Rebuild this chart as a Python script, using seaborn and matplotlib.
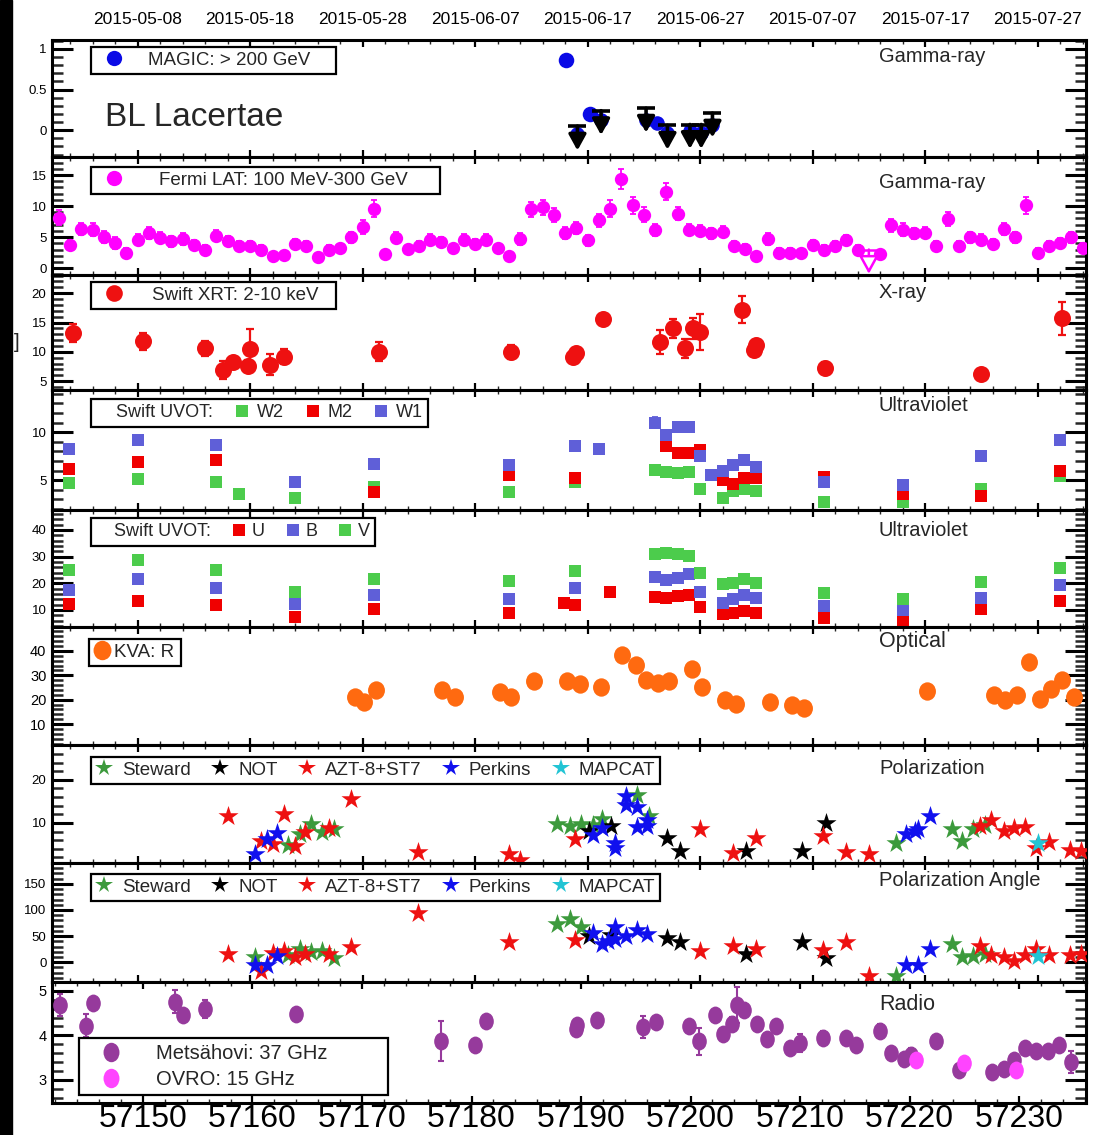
import numpy as np
import pandas as pd
import matplotlib
matplotlib.use("Agg")
import matplotlib.pyplot as plt
import seaborn as sns
from matplotlib.lines import Line2D
from matplotlib.patches import Rectangle
from matplotlib.path import Path
from matplotlib.transforms import Affine2D
from matplotlib.ticker import MultipleLocator, FixedLocator
from matplotlib import font_manager

# ---------------------------------------------------------------- data
# MAGIC > 200 GeV
magic_det_mjd = [57188.1, 57190.2]
magic_det_flux = [0.86, 0.2]
magic_est_mjd = [57189.1, 57191.2, 57195.2, 57196.2, 57197.1, 57199.1, 57200.1, 57201.1]
magic_est_flux = [-0.05, 0.13, 0.13, 0.09, -0.03, -0.01, -0.03, 0.07]
magic_ul_mjd = [57189.1, 57191.2, 57195.2, 57197.1, 57199.1, 57200.1, 57201.1]
magic_ul_flux = [0.05, 0.24, 0.27, 0.06, 0.07, 0.07, 0.21]

# Fermi-LAT 100 MeV - 300 GeV, daily bins
fermi_mjd = [57143, 57144, 57145, 57146, 57147, 57148, 57149, 57150, 57151, 57152,
             57153, 57154, 57155, 57156, 57157, 57158, 57159, 57160, 57161, 57162,
             57163, 57164, 57165, 57166, 57167, 57168, 57169, 57170, 57171, 57172,
             57173, 57174, 57175, 57176, 57177, 57178, 57179, 57180, 57181, 57182,
             57183, 57184, 57185, 57186, 57187, 57188, 57189, 57190, 57191, 57192,
             57193, 57194, 57195, 57196, 57197, 57198, 57199, 57200, 57201, 57202,
             57203, 57204, 57205, 57206, 57207, 57208, 57209, 57210, 57211, 57212,
             57213, 57214, 57216, 57217, 57218, 57219, 57220, 57221, 57222, 57223,
             57224, 57225, 57226, 57227, 57228, 57229, 57230, 57231, 57232, 57233, 57234]
fermi_flux = [8.1, 3.8, 6.3, 6.2, 5.0, 4.05, 2.5, 4.6, 5.7, 4.9,
              4.3, 4.7, 3.8, 3.0, 5.2, 4.3, 3.5, 3.5, 3.0, 2.0,
              2.2, 3.9, 3.5, 1.8, 3.0, 3.2, 5.0, 6.6, 9.6, 2.3,
              4.9, 3.1, 3.5, 4.6, 4.2, 3.2, 4.6, 3.9, 4.6, 3.2,
              1.9, 4.7, 9.5, 9.8, 8.6, 5.7, 6.5, 4.5, 7.7, 9.6,
              14.4, 10.1, 8.6, 6.1, 12.3, 8.8, 6.2, 6.05, 5.6, 5.9,
              3.5, 3.1, 1.9, 4.7, 2.5, 2.5, 2.4, 3.8, 3.0, 3.6,
              4.6, 3.0, 2.3, 6.9, 6.2, 5.6, 5.7, 3.5, 7.9, 3.5,
              5.0, 4.6, 3.9, 6.3, 5.0, 10.1, 2.5, 3.6, 4.05, 5.0, 3.2]
fermi_err = [1.2, 0.8, 1.0, 1.1, 1.0, 0.9, 0.7, 0.9, 1.0, 0.9,
             0.9, 0.9, 0.8, 0.7, 0.9, 0.8, 0.8, 0.8, 0.7, 0.6,
             0.6, 0.8, 0.8, 0.6, 0.7, 0.7, 0.9, 1.1, 1.4, 0.7,
             0.9, 0.7, 0.8, 0.9, 0.8, 0.7, 0.9, 0.8, 0.9, 0.7,
             0.6, 0.9, 1.2, 1.2, 1.1, 1.0, 1.0, 0.9, 1.1, 1.3,
             1.6, 1.3, 1.2, 1.0, 1.4, 1.1, 0.9, 0.9, 0.9, 0.9,
             0.8, 0.8, 0.6, 0.9, 0.7, 0.7, 0.7, 0.8, 0.7, 0.8,
             0.8, 0.7, 0.7, 1.0, 1.0, 0.9, 0.9, 0.8, 1.1, 0.8,
             0.9, 0.9, 0.8, 1.0, 0.9, 1.3, 0.7, 0.8, 0.8, 0.9, 0.8]
fermi_ul_mjd = [57215]
fermi_ul_flux = [3.0]

# Swift-XRT 2-10 keV
xrt_mjd = [57144.3, 57150.5, 57156.0, 57157.6, 57158.5, 57159.8, 57160.0, 57161.8,
           57163.0, 57171.5, 57183.2, 57188.7, 57189.0, 57191.4, 57196.4, 57197.6,
           57198.7, 57199.4, 57200.0, 57203.7, 57204.8, 57205.0, 57211.1, 57225.0, 57232.2]
xrt_flux = [13.2, 11.8, 10.6, 6.9, 8.2, 7.6, 10.5, 7.8,
            9.2, 10.0, 9.9, 9.2, 9.8, 15.6, 11.7, 14.0,
            10.6, 14.0, 13.4, 17.2, 10.3, 11.1, 7.3, 6.3, 15.7]
xrt_err = [1.5, 1.4, 1.3, 1.5, 0.9, 1.0, 3.4, 1.8,
           1.3, 1.6, 1.2, 0.8, 0.8, 0.6, 2.0, 1.6,
           1.6, 1.8, 3.0, 2.3, 1.0, 1.0, 0.9, 0.5, 2.8]

# Swift-UVOT UV filters
uv_mjd = [57143.9, 57150.0, 57157.0, 57159.0, 57164.0, 57171.0, 57183.0, 57188.9,
          57191.0, 57196.0, 57197.0, 57198.0, 57199.0, 57200.0, 57201.0, 57202.0,
          57202.9, 57203.9, 57205.0, 57211.0, 57218.0, 57225.0, 57232.0]
uv_w2 = [4.7, 5.1, 4.8, 3.55, 3.1, 4.3, 3.8, 4.85,
         np.nan, 6.1, 5.9, 5.8, 5.9, 4.1, np.nan, 3.2,
         3.9, 4.1, 3.9, 2.7, 2.75, 4.1, 5.4]
uv_m2 = [6.2, 6.9, 7.1, np.nan, np.nan, 3.8, 5.5, 5.2,
         np.nan, np.nan, 8.6, 7.8, 7.8, 8.2, np.nan, 5.0,
         4.65, 5.2, 5.2, 5.3, 3.6, 3.4, 6.0]
uv_w1 = [8.3, 9.2, 8.7, np.nan, 4.8, 6.7, 6.6, 8.6,
         8.3, 11.0, 9.7, 10.5, 10.5, 7.5, 5.5, 6.0,
         6.55, 7.1, 6.4, 4.8, 4.55, 7.5, 9.2]
uv_w1_err = [0.15, 0.15, 0.15, np.nan, 0.1, 0.1, 0.1, 0.1,
             0.1, 0.6, 0.5, 0.3, 0.3, 0.2, 0.1, 0.1,
             0.1, 0.1, 0.1, 0.1, 0.1, 0.25, 0.3]

# Swift-UVOT optical filters
opt_mjd = [57143.9, 57150.0, 57157.0, 57164.0, 57171.0, 57183.0, 57187.9, 57188.9,
           57192.0, 57196.0, 57197.0, 57198.0, 57199.0, 57200.0, 57202.0, 57202.9,
           57203.9, 57205.0, 57211.0, 57218.0, 57225.0, 57232.0]
opt_u = [12.1, 13.4, 11.7, 7.2, 10.2, 8.9, 12.5, 11.7,
         16.6, 15.0, 14.6, 15.3, 15.5, 11.1, 8.5, 8.9,
         9.5, 8.7, 7.0, 6.3, 10.4, 13.4]
opt_b = [17.6, 21.7, 18.2, 12.1, 15.5, 14.0, np.nan, 18.3,
         np.nan, 22.3, 21.4, 21.9, 23.6, 16.8, 12.7, 14.0,
         15.5, 14.3, 11.4, 9.9, 14.6, 19.4]
opt_v = [25.1, 28.7, 24.9, 16.9, 21.7, 21.0, np.nan, 24.5,
         np.nan, 30.9, 31.2, 30.9, 30.3, 24.0, 19.7, 20.1,
         21.7, 20.1, 16.3, 14.0, 20.4, 25.7]

# KVA R band
kva_mjd = [57169.3, 57170.1, 57171.2, 57177.1, 57178.2, 57182.2, 57183.2, 57185.2,
           57188.2, 57189.3, 57191.2, 57193.1, 57194.3, 57195.2, 57196.3, 57197.2,
           57199.3, 57200.2, 57202.2, 57203.2, 57206.2, 57208.2, 57209.2, 57220.2,
           57226.1, 57227.1, 57228.2, 57229.2, 57230.2, 57231.2, 57232.2, 57233.2]
kva_flux = [21.1, 19.0, 23.8, 23.8, 21.1, 23.2, 21.1, 27.5,
            27.5, 26.6, 25.2, 38.5, 34.1, 27.9, 26.8, 27.7,
            32.7, 25.2, 19.7, 18.1, 19.0, 17.9, 16.6, 23.4,
            22.1, 19.7, 22.1, 35.5, 20.4, 24.2, 27.9, 21.1]

# Optical polarization degree (%)
stew_p_mjd = [57163.4, 57164.4, 57165.4, 57166.4, 57167.5, 57187.3, 57188.4, 57189.4,
              57190.5, 57191.3, 57194.4, 57195.5, 57217.4, 57222.4, 57223.3, 57224.3, 57225.3]
stew_p = [4.8, 7.5, 9.8, 7.9, 8.7, 9.8, 9.2, 9.8,
          9.6, 11.0, 16.4, 11.5, 5.4, 8.5, 5.8, 8.5, 9.5]
not_p_mjd = [57190.1, 57192.1, 57197.1, 57198.2, 57204.1, 57209.1, 57211.2]
not_p = [8.2, 9.2, 6.4, 3.6, 3.5, 3.6, 10.0]
azt_p_mjd = [57158.0, 57161.0, 57162.0, 57163.0, 57164.0, 57164.9, 57167.0, 57169.0,
             57174.9, 57183.0, 57184.0, 57188.9, 57200.0, 57202.9, 57205.0, 57210.9,
             57213.0, 57215.0, 57224.9, 57225.9, 57227.0, 57227.9, 57228.9, 57229.9,
             57231.0, 57232.9, 57233.9]
azt_p = [11.5, 5.8, 5.2, 12.1, 4.6, 7.9, 8.8, 15.5,
         3.3, 2.7, 1.5, 6.2, 8.5, 3.1, 6.5, 6.9,
         3.3, 2.8, 9.2, 10.8, 8.1, 8.8, 9.0, 4.2,
         5.6, 3.8, 3.5]
perk_p_mjd = [57160.4, 57161.5, 57162.4, 57190.5, 57191.3, 57192.4, 57192.4, 57193.4,
              57193.4, 57194.4, 57194.4, 57195.3, 57195.3, 57218.3, 57219.1, 57219.4, 57220.4]
perk_p = [2.7, 6.2, 7.7, 7.3, 8.8, 5.4, 4.2, 16.2,
          14.2, 13.8, 9.0, 10.8, 9.2, 7.5, 8.2, 8.7, 11.5]
mapcat_p_mjd = [57230.0]
mapcat_p = [5.4]

# Optical polarization angle (deg)
stew_a_mjd = [57160.4, 57163.4, 57164.4, 57165.4, 57166.4, 57167.5, 57187.3, 57188.4,
              57189.4, 57217.4, 57222.4, 57223.3, 57224.3, 57225.3]
stew_a = [10, 13, 25, 19, 21, 8, 73, 82,
          67, -27, 34, 10, 12, 15]
not_a_mjd = [57190.1, 57192.1, 57197.1, 57198.2, 57204.1, 57209.1, 57211.2]
not_a = [50, 52, 47, 38, 15, 39, 8]
azt_a_mjd = [57158.0, 57161.0, 57162.0, 57163.0, 57164.0, 57164.9, 57167.0, 57169.0,
             57174.9, 57183.0, 57188.9, 57200.0, 57202.9, 57205.0, 57210.9, 57213.0,
             57215.0, 57224.9, 57225.9, 57227.0, 57227.9, 57228.9, 57229.9, 57231.0,
             57232.9, 57233.9]
azt_a = [16, -16, 18, 21, 10, 16, 16, 30,
         95, 38, 43, 21, 31, 25, 23, 38,
         -26, 31, 13, 10, 2, 13, 26, 13,
         13, 15]
perk_a_mjd = [57160.4, 57161.5, 57162.4, 57190.5, 57191.3, 57191.8, 57192.4, 57192.4,
              57193.4, 57194.4, 57195.3, 57218.3, 57219.4, 57220.4]
perk_a = [-6, -5, 12, 56, 34, 41, 67, 44,
          50, 62, 54, -5, -5, 25]
mapcat_a_mjd = [57230.0]
mapcat_a = [12]

# Radio (this panel has its own time axis)
mets_mjd = [57142.4, 57144.8, 57145.4, 57152.9, 57153.7, 57155.7, 57164.0, 57177.2,
            57180.3, 57181.3, 57189.5, 57189.6, 57191.5, 57195.7, 57196.8, 57199.9,
            57200.8, 57202.2, 57203.0, 57203.8, 57204.2, 57204.9, 57206.1, 57207.0,
            57207.8, 57209.1, 57210.0, 57212.1, 57214.2, 57215.1, 57217.3, 57218.3,
            57219.5, 57220.1, 57222.4, 57224.5, 57227.5, 57228.6, 57229.5, 57230.5,
            57231.5, 57232.6, 57233.6, 57234.7]
mets_flux = [4.68, 4.22, 4.72, 4.76, 4.45, 4.60, 4.49, 3.87,
             3.79, 4.33, 4.15, 4.24, 4.35, 4.18, 4.29, 4.22,
             3.87, 4.45, 4.02, 4.26, 4.68, 4.57, 4.26, 3.91,
             4.20, 3.71, 3.83, 3.95, 3.95, 3.79, 4.10, 3.61,
             3.48, 3.56, 3.87, 3.22, 3.17, 3.25, 3.44, 3.71,
             3.64, 3.64, 3.79, 3.40]
mets_err = [0.25, 0.25, 0.10, 0.25, 0.15, 0.20, 0.10, 0.45,
            0.05, 0.08, 0.10, 0.05, 0.05, 0.25, 0.08, 0.05,
            0.30, 0.05, 0.08, 0.15, 0.40, 0.15, 0.05, 0.08,
            0.15, 0.08, 0.20, 0.15, 0.08, 0.10, 0.15, 0.05,
            0.08, 0.15, 0.05, 0.05, 0.05, 0.05, 0.10, 0.15,
            0.15, 0.10, 0.10, 0.25]
ovro_mjd = [57220.6, 57225.0, 57229.7]
ovro_flux = [3.45, 3.37, 3.22]

# axis ticks
mjd_ticks = [57150, 57160, 57170, 57180, 57190, 57200, 57210, 57220, 57230]
mjd_labels = ["57150", "57160", "57170", "57180", "57190", "57200", "57210", "57220", "57230"]
date_labels = ["2015-05-08", "2015-05-18", "2015-05-28", "2015-06-07", "2015-06-17",
               "2015-06-27", "2015-07-07", "2015-07-17", "2015-07-27"]
band_names = ["Gamma-ray", "Gamma-ray", "X-ray", "Ultraviolet", "Ultraviolet",
              "Optical", "Polarization", "Polarization Angle", "Radio"]

# ---------------------------------------------------------------- style
sns.set_theme(style="ticks")
plt.rcParams['font.family'] = ['Liberation Sans', 'DejaVu Sans']
names = {f.name for f in font_manager.fontManager.ttflist}
NARROW = 'Liberation Sans Narrow' if 'Liberation Sans Narrow' in names else 'Liberation Sans'

C_MAGIC = "#0a0ae6"
C_FERMI = "#ff00ff"
C_XRT = "#ee1111"
C_W2, C_M2, C_W1 = "#4ccc4c", "#f00000", "#5f5fd8"
C_KVA = "#ff6a10"
C_STEW, C_NOT, C_AZT, C_PERK, C_MAP = "#3c9a3c", "#000000", "#ee1111", "#1010ee", "#22c4d4"
C_METS, C_OVRO = "#963a9c", "#ff44ff"


def ellipse(ratio):
    circ = Path.unit_circle()
    return Path(Affine2D().scale(ratio, 1.0).transform(circ.vertices), circ.codes)


OVAL_KVA = ellipse(0.92)
OVAL_RADIO = ellipse(0.82)

W, H = 1099, 1135
X_L, X_R = 52, 1086
EDGES = [40, 157, 275, 390, 510, 627, 745, 863, 982, 1103]
XLIM = (57142.4, 57234.3)
XLIM_RADIO = (57141.7, 57236.1)

fig = plt.figure(figsize=(W / 100, H / 100), dpi=100)
fig.patch.set_facecolor("white")
axes = []
for top, bot in zip(EDGES[:-1], EDGES[1:]):
    ax = fig.add_axes([X_L / W, 1 - bot / H, (X_R - X_L) / W, (bot - top) / H])
    ax.set_facecolor("white")
    axes.append(ax)
heights = [b - t for t, b in zip(EDGES[:-1], EDGES[1:])]


def scatter(ax, x, y, color, s, marker="o", zorder=3):
    df = pd.DataFrame({"mjd": x, "val": y}).dropna()
    sns.scatterplot(data=df, x="mjd", y="val", ax=ax, color=color, s=s,
                    marker=marker, linewidth=0, legend=False, zorder=zorder)


def errbars(ax, x, y, e, color, lw=1.5, cap=2.8):
    ax.errorbar(x, y, yerr=e, fmt="none", ecolor=color, elinewidth=lw,
                capsize=cap, capthick=lw, zorder=2)


def upper_limits(ax, x, ul, drop, color, lw, fill, bar_s, scale):
    for xi, yi in zip(x, ul):
        ax.annotate("", xy=(xi, yi - drop), xytext=(xi, yi),
                    arrowprops=dict(arrowstyle="-|>,head_length=0.6,head_width=0.33",
                                    lw=lw, color=color, fc=fill, shrinkA=0, shrinkB=0,
                                    mutation_scale=scale), zorder=6)
    ax.scatter(x, ul, marker="_", s=bar_s, linewidths=lw, color=color, zorder=6)


def style(ax, ylim, major, labels, minor, narrow=False, xlim=XLIM):
    ax.set_xlim(*xlim)
    ax.set_ylim(*ylim)
    ax.set_xlabel("")
    ax.set_ylabel("")
    ax.xaxis.set_major_locator(FixedLocator(mjd_ticks))
    ax.xaxis.set_minor_locator(MultipleLocator(2))
    ax.yaxis.set_major_locator(FixedLocator(major))
    ax.set_yticklabels(labels)
    ax.yaxis.set_minor_locator(MultipleLocator(minor))
    for sp in ax.spines.values():
        sp.set_visible(True)
        sp.set_linewidth(2.2)
        sp.set_color("black")
    ax.tick_params(axis="y", which="major", direction="in", length=15, width=2.2,
                   left=True, right=True, labelsize=9.5, pad=4, colors="black")
    ax.tick_params(axis="y", which="minor", direction="in", length=8, width=1.8,
                   left=True, right=True)
    ax.tick_params(axis="x", which="major", direction="in", length=5, width=1.6,
                   top=True, bottom=True, labelbottom=False, colors="black")
    ax.tick_params(axis="x", which="minor", direction="in", length=3, width=1.0,
                   top=True, bottom=True)
    if narrow:
        for t in ax.get_yticklabels():
            t.set_family([NARROW, "DejaVu Sans"])
            t.set_fontsize(10.5)


def box_legend(ax, idx, handles, labels, x0_px, top_off, width_px, ncol, fontsize=13.5,
               loc="upper left", bottom_off=None, family=None, **kw):
    hp = heights[idx]
    x0 = (x0_px - X_L) / (X_R - X_L)
    w = width_px / (X_R - X_L)
    if bottom_off is None:
        anchor = (x0, 1 - top_off / hp, w, 0)
    else:
        anchor = (x0, bottom_off / hp, w, 0)
    prop = {"size": fontsize}
    if family:
        prop["family"] = family
    leg = ax.legend(handles, labels, loc=loc, bbox_to_anchor=anchor, mode="expand",
                    ncol=ncol, frameon=True, fancybox=False, framealpha=1,
                    edgecolor="black", prop=prop, borderaxespad=0, **kw)
    leg.get_frame().set_linewidth(1.6)
    leg.set_zorder(10)
    return leg


def mk(marker, color, ms):
    return Line2D([], [], ls="none", marker=marker, color=color, markersize=ms,
                  markeredgewidth=0)


blank = Line2D([], [], ls="none", marker=None)

# ---------------------------------------------------------------- panels
# 1: MAGIC
ax = axes[0]
scatter(ax, magic_est_mjd, magic_est_flux, C_MAGIC, 110)
scatter(ax, magic_det_mjd, magic_det_flux, C_MAGIC, 125)
upper_limits(ax, magic_ul_mjd, magic_ul_flux, 0.3, "black", 2.6, "black", 170, 16)
style(ax, (-0.33, 1.11), [0, 0.5, 1], ["0", "0.5", "1"], 0.1)
box_legend(ax, 0, [mk("o", C_MAGIC, 11)], ["MAGIC: > 200 GeV"], 91, 7, 245, 1,
           borderpad=0.25, handlelength=2.0, handletextpad=0.8)
ax.text((105 - X_L) / (X_R - X_L), 1 - 77 / heights[0], "BL Lacertae",
        transform=ax.transAxes, fontsize=24, ha="left", va="center")

# 2: Fermi-LAT
ax = axes[1]
errbars(ax, fermi_mjd, fermi_flux, fermi_err, C_FERMI, lw=1.3, cap=2.5)
scatter(ax, fermi_mjd, fermi_flux, C_FERMI, 92)
upper_limits(ax, fermi_ul_mjd, fermi_ul_flux, 3.9, C_FERMI, 1.8, "white", 110, 18)
style(ax, (-1.1, 17.9), [0, 5, 10, 15], ["0", "5", "10", "15"], 1)
box_legend(ax, 1, [mk("o", C_FERMI, 11)], ["Fermi LAT: 100 MeV-300 GeV"], 91, 10, 349, 1,
           borderpad=0.25, handlelength=2.0, handletextpad=1.4)

# 3: Swift-XRT
ax = axes[2]
errbars(ax, xrt_mjd, xrt_flux, xrt_err, C_XRT, lw=1.6, cap=3)
scatter(ax, xrt_mjd, xrt_flux, C_XRT, 150)
style(ax, (3.5, 23.1), [5, 10, 15, 20], ["5", "10", "15", "20"], 1)
box_legend(ax, 2, [mk("o", C_XRT, 12)], ["Swift XRT: 2-10 keV"], 91, 7, 245, 1,
           borderpad=0.25, handlelength=2.0, handletextpad=1.0)

# 4: Swift-UVOT UV
ax = axes[3]
errbars(ax, uv_mjd, uv_w1, uv_w1_err, C_W1, lw=1.3, cap=2)
scatter(ax, uv_mjd, uv_w2, C_W2, 85, marker="s")
scatter(ax, uv_mjd, uv_m2, C_M2, 85, marker="s")
scatter(ax, uv_mjd, uv_w1, C_W1, 85, marker="s")
style(ax, (1.9, 14.4), [5, 10], ["5", "10"], 1)
box_legend(ax, 3, [blank, mk("s", C_W2, 9), mk("s", C_M2, 9), mk("s", C_W1, 9)],
           ["Swift UVOT:", "W2", "M2", "W1"], 91, 9, 337, 4, fontsize=13,
           borderpad=0.3, handlelength=0.6, handletextpad=0.5, columnspacing=0.8)

# 5: Swift-UVOT optical
ax = axes[4]
scatter(ax, opt_mjd, opt_u, C_M2, 85, marker="s")
scatter(ax, opt_mjd, opt_b, C_W1, 85, marker="s")
scatter(ax, opt_mjd, opt_v, C_W2, 85, marker="s")
style(ax, (3.6, 47.5), [10, 20, 30, 40], ["10", "20", "30", "40"], 2)
box_legend(ax, 4, [blank, mk("s", C_M2, 9), mk("s", C_W1, 9), mk("s", C_W2, 9)],
           ["Swift UVOT:", "U", "B", "V"], 91, 8, 284, 4, fontsize=13,
           borderpad=0.3, handlelength=0.6, handletextpad=0.4, columnspacing=0.8)

# 6: KVA R band
ax = axes[5]
scatter(ax, kva_mjd, kva_flux, C_KVA, 175, marker=OVAL_KVA)
style(ax, (1.4, 49.8), [10, 20, 30, 40], ["10", "20", "30", "40"], 2, narrow=True)
box_legend(ax, 5, [mk(OVAL_KVA, C_KVA, 14)], ["KVA: R"], 89, 12, 92, 1, fontsize=13.5,
           family=[NARROW, "DejaVu Sans"], borderpad=0.25, handlelength=0.9,
           handletextpad=0.2)

# 7 & 8: polarization degree and angle
pol_sets = [
    [(stew_p_mjd, stew_p, C_STEW), (not_p_mjd, not_p, C_NOT), (azt_p_mjd, azt_p, C_AZT),
     (perk_p_mjd, perk_p, C_PERK), (mapcat_p_mjd, mapcat_p, C_MAP)],
    [(stew_a_mjd, stew_a, C_STEW), (not_a_mjd, not_a, C_NOT), (azt_a_mjd, azt_a, C_AZT),
     (perk_a_mjd, perk_a, C_PERK), (mapcat_a_mjd, mapcat_a, C_MAP)],
]
pol_handles = [mk("*", c, 13) for c in (C_STEW, C_NOT, C_AZT, C_PERK, C_MAP)]
pol_labels = ["Steward", "NOT", "AZT-8+ST7", "Perkins", "MAPCAT"]
for ax, sets in zip(axes[6:8], pol_sets):
    for x, y, c in sets:
        scatter(ax, x, y, c, 230, marker="*")
style(axes[6], (0.7, 28.1), [10, 20], ["10", "20"], 2)
style(axes[7], (-38, 190), [0, 50, 100, 150], ["0", "50", "100", "150"], 10)
box_legend(axes[6], 6, pol_handles, pol_labels, 91, 12, 569, 5, fontsize=13.5,
           borderpad=0.25, handlelength=0.9, handletextpad=0.5, columnspacing=0.9)
box_legend(axes[7], 7, pol_handles, pol_labels, 91, 11, 569, 5, fontsize=13.5,
           borderpad=0.25, handlelength=0.9, handletextpad=0.5, columnspacing=0.9)

# 9: radio
ax = axes[8]
errbars(ax, mets_mjd, mets_flux, mets_err, C_METS, lw=1.5, cap=2.5)
scatter(ax, mets_mjd, mets_flux, C_METS, 165, marker=OVAL_RADIO)
scatter(ax, ovro_mjd, ovro_flux, C_OVRO, 165, marker=OVAL_RADIO, zorder=4)
style(ax, (2.48, 5.2), [3, 4, 5], ["3", "4", "5"], 0.2, narrow=True, xlim=XLIM_RADIO)
box_legend(ax, 8, [mk(OVAL_RADIO, C_METS, 14), mk(OVAL_RADIO, C_OVRO, 14)],
           ["Metsähovi: 37 GHz", "OVRO: 15 GHz"], 79, None, 309, 1, fontsize=14.5,
           loc="lower left", bottom_off=8, family=[NARROW, "DejaVu Sans"],
           borderpad=0.3, handlelength=2.6, handletextpad=0.9, labelspacing=0.35)

# band names in the upper right of each panel
band_y_off = [17, 25, 18, 16, 20, 15, 23, 17, 22]
for ax, name, off, hp in zip(axes, band_names, band_y_off, heights):
    t = ax.text((879 - X_L) / (X_R - X_L), 1 - off / hp, name, transform=ax.transAxes,
                fontsize=14.5, ha="left", va="center", zorder=11)
    if name in ("Optical", "Radio"):
        t.set_family([NARROW, "DejaVu Sans"])
        t.set_fontsize(15.5)

# date axis on top, MJD axis at bottom
axes[0].tick_params(axis="x", labeltop=True, labelsize=12.5, pad=9)
axes[0].set_xticklabels(date_labels)
axes[-1].tick_params(axis="x", labelbottom=True, labelsize=23, pad=0.5)
axes[-1].set_xticklabels(mjd_labels)

# left edge strip and the clipped axis-label bracket
fig.patches.append(Rectangle((0, 0), 12 / W, 1, transform=fig.transFigure,
                             color="black", zorder=0))
fig.text(17 / W, 1 - 343 / H, "]", fontsize=15, ha="center", va="center")

fig.savefig("out.png", dpi=100, facecolor="white")
